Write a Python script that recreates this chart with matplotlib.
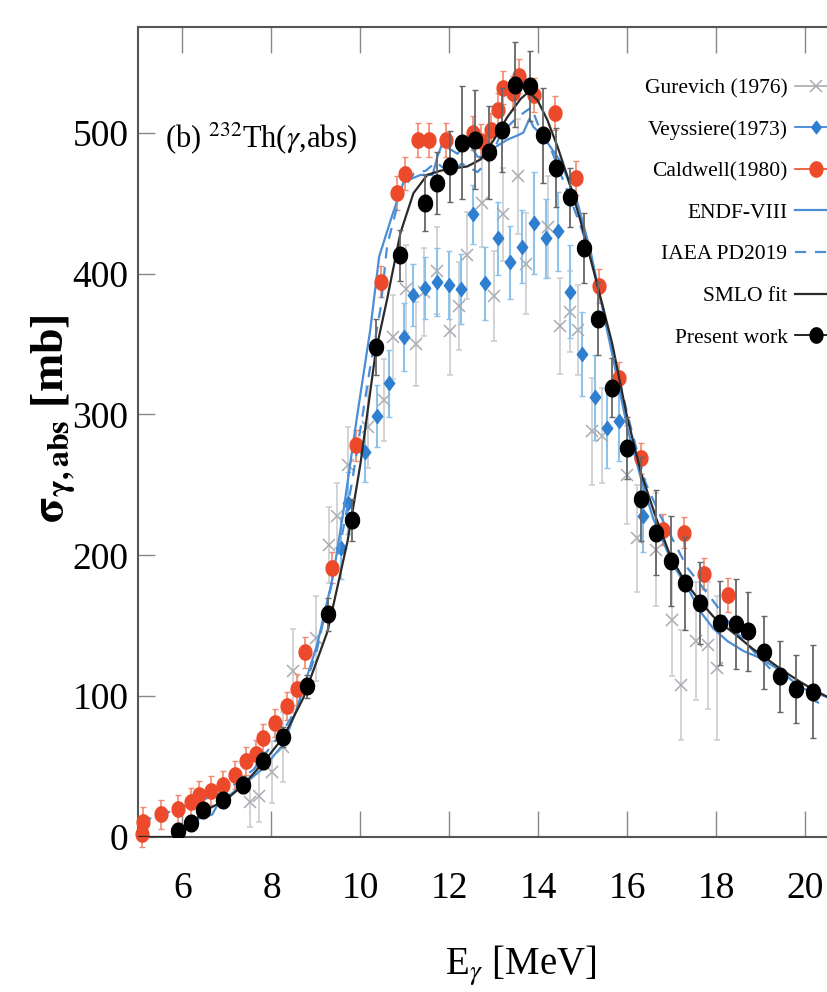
import numpy as np
import matplotlib
matplotlib.use("Agg")
import matplotlib.pyplot as plt
from matplotlib.lines import Line2D
from matplotlib.path import Path

plt.rcParams['font.family'] = ['Liberation Serif', 'DejaVu Serif']
plt.rcParams['mathtext.fontset'] = 'stix'

# ---------------- data ----------------
# Present work
pw_x = [5.89, 6.18, 6.47, 6.90, 7.35, 7.82, 8.27, 8.79, 9.28, 9.80,
        10.34, 10.88, 11.44, 11.71, 12.02, 12.29, 12.58, 12.88, 13.17, 13.48,
        13.80, 14.11, 14.40, 14.70, 15.03, 15.33, 15.66, 15.98, 16.31, 16.65,
        16.97, 17.30, 17.64, 18.09, 18.43, 18.70, 19.06, 19.42, 19.78, 20.16]
pw_y = [4, 10, 19, 26, 37, 54, 71, 107, 158, 225,
        348, 413, 450, 464, 476, 493, 495, 486, 502, 534,
        533, 498, 475, 454, 418, 368, 319, 276, 240, 216,
        196, 180, 166, 152, 151, 146, 131, 114, 105, 103]
pw_e = [3, 4, 4, 5, 6, 6, 7, 8, 12, 15,
        20, 18, 20, 22, 25, 40, 35, 33, 30, 30,
        25, 34, 28, 21, 25, 26, 21, 22, 30, 30,
        32, 33, 29, 30, 32, 28, 26, 25, 24, 33]

# Caldwell (1980)
cal_x = [5.08, 5.12, 5.51, 5.89, 6.20, 6.36, 6.63, 6.90, 7.17, 7.42,
         7.66, 7.82, 8.09, 8.34, 8.58, 8.76, 9.35, 9.91, 10.47, 10.83,
         11.01, 11.30, 11.55, 11.93, 12.54, 12.72, 12.94, 13.08, 13.21, 13.42,
         13.57, 13.91, 14.38, 14.85, 15.35, 15.82, 16.31, 16.79, 17.28, 17.71, 18.27]
cal_y = [2, 11, 16, 20, 25, 30, 33, 37, 44, 54,
         59, 70, 81, 93, 105, 131, 191, 278, 394, 457,
         471, 495, 495, 495, 500, 494, 502, 516, 532, 528,
         540, 527, 514, 468, 391, 326, 269, 218, 216, 187, 172]
cal_e = [9, 10, 10, 10, 10, 10, 10, 10, 10, 10,
         10, 10, 10, 10, 11, 11, 11, 11, 11, 12,
         12, 12, 12, 12, 12, 12, 12, 12, 12, 12,
         12, 12, 12, 12, 12, 11, 11, 11, 11, 11, 12]

# Veyssiere (1973)
vey_x = [9.57, 9.73, 10.11, 10.38, 10.65, 10.97, 11.19, 11.46, 11.73, 12.00,
         12.27, 12.54, 12.81, 13.08, 13.37, 13.62, 13.91, 14.18, 14.45, 14.70,
         14.99, 15.26, 15.53, 15.80, 16.34]
vey_y = [205, 237, 273, 299, 322, 355, 385, 390, 394, 392,
         389, 442, 393, 425, 408, 419, 436, 425, 430, 387,
         343, 312, 290, 295, 228]
vey_e = [22, 22, 21, 22, 24, 24, 22, 22, 24, 24,
         25, 21, 26, 26, 26, 26, 36, 28, 28, 33,
         30, 30, 28, 28, 26]

# Gurevich (1976)
gur_x = [7.51, 7.73, 8.02, 8.25, 8.49, 9.01, 9.30, 9.48, 9.71, 10.18,
         10.52, 10.72, 11.03, 11.24, 11.42, 11.73, 12.02, 12.22, 12.40, 12.74,
         12.99, 13.21, 13.53, 13.71, 14.22, 14.49, 14.70, 14.90, 15.21, 15.42,
         16.00, 16.22, 16.65, 17.01, 17.21, 17.53, 17.82, 18.02]
gur_y = [25, 29, 46, 64, 118, 141, 207, 228, 264, 291,
         310, 355, 389, 350, 387, 402, 359, 377, 413, 450,
         384, 442, 469, 407, 433, 363, 373, 360, 288, 285,
         257, 212, 204, 154, 108, 139, 136, 120]
gur_e = [18, 18, 22, 25, 30, 30, 27, 23, 27, 29,
         29, 30, 31, 30, 31, 31, 31, 31, 31, 31,
         32, 33, 41, 36, 36, 34, 29, 32, 38, 34,
         35, 38, 40, 40, 39, 42, 45, 51]

# ENDF-VIII
endf_x = [5.90, 5.96, 6.34, 6.67, 6.79, 6.90, 7.37, 7.82, 8.27, 8.58,
          9.03, 9.39, 9.62, 9.93, 10.22, 10.42, 10.70, 10.97, 11.35, 11.62,
          11.73, 11.87, 11.98, 12.18, 12.31, 12.47, 12.63, 12.81, 12.99, 13.30,
          13.53, 13.66, 13.80, 13.89, 14.09, 14.31, 14.49, 14.67, 14.88, 15.17,
          15.46, 15.69, 16.00, 16.30, 16.58, 17.03, 17.35, 17.64, 17.93, 18.25,
          18.61, 18.99, 19.44, 19.89, 20.52, 20.80]
endf_y = [0, 2, 12.7, 16, 23, 26, 37, 49, 66, 92,
          137, 186, 232, 300, 360, 412, 440, 465, 470, 470,
          483, 495, 489, 485, 490, 491, 483, 482, 489, 495,
          498, 500, 510, 504, 498, 488, 480, 466, 450, 416,
          372, 338, 290, 255, 226, 193, 177, 160, 148, 139,
          132, 127, 118, 106, 99, 96]

# IAEA PD2019
iaea_x = [5.06, 5.55, 5.96, 6.40, 6.79, 7.15, 7.60, 7.91, 8.27, 8.58,
          9.00, 9.50, 9.80, 10.00, 10.20, 10.45, 10.60, 10.90, 11.20, 11.47,
          11.69, 12.00, 12.28, 12.63, 12.90, 13.17, 13.53, 13.84, 14.00, 14.31,
          14.67, 14.99, 15.29, 15.60, 16.00, 16.40, 16.74, 17.35, 17.87, 18.38,
          18.83, 19.28, 19.73, 20.18, 20.52, 20.80]
iaea_y = [11, 16, 21, 26, 30, 37, 48, 61, 76, 92,
          130, 200, 250, 290, 330, 375, 420, 457, 471, 473,
          479, 472, 478, 472, 481, 500, 511, 518, 505, 486,
          457, 430, 398, 355, 300, 252, 228, 191, 170, 148,
          132, 117, 105, 97, 92, 88]

# SMLO fit
smlo_x = [5.00, 5.85, 6.13, 6.47, 7.00, 7.37, 7.82, 8.27, 8.72, 9.26,
          9.71, 10.00, 10.34, 10.60, 10.90, 11.19, 11.50, 11.80, 12.18, 12.40,
          12.70, 13.00, 13.30, 13.60, 13.78, 13.98, 14.20, 14.43, 14.65, 14.94,
          15.24, 15.46, 15.66, 15.98, 16.31, 16.65, 16.97, 17.30, 17.64, 18.00,
          18.38, 18.80, 19.15, 19.50, 19.89, 20.16, 20.52, 20.80]
smlo_y = [0, 0, 7, 18, 27, 37, 53, 71, 99, 146,
          210, 265, 344, 382, 429, 457, 470, 473, 475, 476,
          481, 495, 511, 524, 529, 523, 509, 490, 469, 438,
          402, 375, 350, 300, 258, 226, 199, 181, 167, 154,
          145, 134, 126, 118, 110, 105, 99, 96]

legend_labels = ['Gurevich (1976)', 'Veyssiere(1973)', 'Caldwell(1980)',
                 'ENDF-VIII', 'IAEA PD2019', 'SMLO fit', 'Present work']

# ---------------- styling ----------------
c_gur = '#a9acb0'
c_gur_e = '#c9ccd0'
c_vey = '#2f7fd0'
c_vey_e = '#8cc3ec'
c_cal = '#ec4a2a'
c_cal_e = '#f08a70'
c_endf = '#4a8fd6'
c_smlo = '#2a2a2a'
c_pw = '#000000'
c_pw_e = '#666666'

# slightly tall ellipse marker (reference is vertically stretched)
t = np.linspace(0, 2 * np.pi, 60)
ell = Path(np.column_stack([0.84 * np.cos(t), np.sin(t)]), closed=True)
dia = Path([(0, 1), (0.75, 0), (0, -1), (-0.75, 0), (0, 1)], closed=True)

fig = plt.figure(figsize=(8.28, 9.92), dpi=100)
L, R, B, T = 138, 841, 837, 27
ax = fig.add_axes([L / 828, (992 - B) / 992, (R - L) / 828, (B - T) / 992])
ax.set_xlim(5, 20.8)
ax.set_ylim(0, 575)

# experimental data
ax.errorbar(gur_x, gur_y, yerr=gur_e, fmt='x', ms=9, mew=1.1, color=c_gur,
            ecolor=c_gur_e, elinewidth=1.2, capsize=2, zorder=2)
ax.errorbar(vey_x, vey_y, yerr=vey_e, fmt='none', ecolor=c_vey_e,
            elinewidth=1.5, capsize=2, zorder=2)
ax.plot(vey_x, vey_y, linestyle='none', marker=dia, ms=10, color=c_vey, zorder=3)

# curves
ax.plot(endf_x, endf_y, '-', color=c_endf, lw=1.6, zorder=4)
ax.plot(iaea_x, iaea_y, '--', color=c_endf, lw=1.6, dashes=(5, 4), zorder=4)

ax.errorbar(cal_x, cal_y, yerr=cal_e, fmt='none', ecolor=c_cal_e,
            elinewidth=1.2, capsize=2, zorder=3, clip_on=False)
ax.plot(cal_x, cal_y, linestyle='none', marker=ell, ms=11, color=c_cal,
        zorder=5, clip_on=False)

ax.plot(smlo_x, smlo_y, '-', color=c_smlo, lw=1.6, zorder=6)
ax.errorbar(pw_x, pw_y, yerr=pw_e, fmt='none', ecolor=c_pw_e,
            elinewidth=1.3, capsize=2, zorder=6)
ax.plot(pw_x, pw_y, linestyle='none', marker=ell, ms=12, color=c_pw, zorder=7)

# axes styling
for s in ax.spines.values():
    s.set_color('#555555')
    s.set_linewidth(1.5)
ax.set_xticks([6, 8, 10, 12, 14, 16, 18, 20])
ax.set_yticks([0, 100, 200, 300, 400, 500])
ax.tick_params(axis='x', direction='in', length=19, width=1, color='#888888',
               top=True, bottom=True, labelsize=27, pad=25)
ax.tick_params(axis='y', direction='in', length=12, width=1, color='#888888',
               left=True, right=False, labelsize=27, pad=7)

ax.set_xlabel(r'E$_\gamma$ [MeV]', fontsize=28)
ax.xaxis.set_label_coords((521 - L) / (R - L), -(944 - B) / (B - T))
ax.set_ylabel(r'$\mathbf{\sigma}_{\mathbf{\gamma,abs}}$ [mb]', fontsize=33,
              fontweight='bold')
ax.yaxis.set_label_coords((76 - L) / (R - L), (B - 419) / (B - T))

ax.text(165 / 828, (992 - 147) / 992, r'(b) $^{232}$Th($\gamma$,abs)',
        transform=fig.transFigure, fontsize=22, ha='left', va='baseline')

# legend
handles = [
    Line2D([], [], color=c_gur, marker='x', ms=9, mew=1.1, lw=1.2),
    Line2D([], [], color=c_vey, marker=dia, ms=9, lw=1.2),
    Line2D([], [], color=c_cal, marker=ell, ms=11, lw=1.2),
    Line2D([], [], color=c_endf, lw=1.6),
    Line2D([], [], color=c_endf, lw=1.6, ls='--', dashes=(5, 4)),
    Line2D([], [], color=c_smlo, lw=1.6),
    Line2D([], [], color=c_pw, marker=ell, ms=11, lw=1.2),
]
ax.legend(handles, legend_labels, loc='upper right', frameon=False,
          markerfirst=False, fontsize=15.5, labelspacing=1.0, handlelength=2.0,
          handletextpad=0.35, borderpad=0, borderaxespad=0,
          bbox_to_anchor=(838 / 828, (992 - 78) / 992),
          bbox_transform=fig.transFigure)

fig.savefig('out.png', dpi=100)
